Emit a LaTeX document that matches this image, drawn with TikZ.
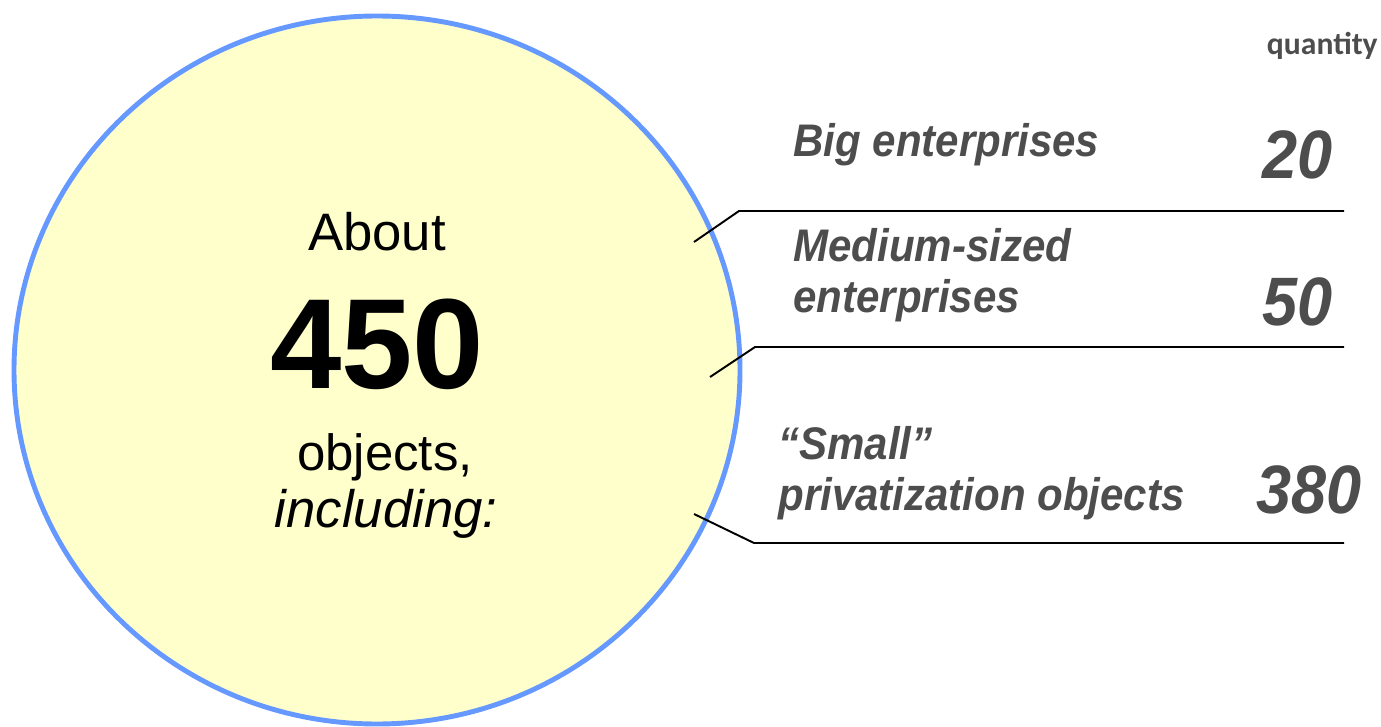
\documentclass[tikz,border=0pt]{standalone}
\usepackage{fontspec}
\setmainfont{Liberation Sans}
\newfontfamily\qtyfont{Carlito}
\newfontfamily\narrowfont[FakeStretch=0.92, Ligatures=TeX]{Liberation Sans}
\usetikzlibrary{positioning}

\definecolor{poolfill}{HTML}{FFFFCC}
\definecolor{poolline}{HTML}{6699FF}
\definecolor{txtgray}{HTML}{4D4D4D}

\begin{document}
\begin{tikzpicture}[x=0.02cm, y=-0.02cm,
            pool/.style={draw=poolline, line width=2.8pt, fill=poolfill},
            inside/.style={inner sep=0pt, anchor=base, font=\fontsize{30}{34}\selectfont},
            lbl/.style={inner sep=0pt, anchor=base west, text=txtgray, align=left,
                    font=\narrowfont\fontsize{26}{28.5}\selectfont\bfseries\itshape},
            num/.style={inner sep=0pt, anchor=base east, text=txtgray,
                    font=\narrowfont\fontsize{39}{44}\selectfont\bfseries\itshape},
            lead/.style={line width=1.1pt}
        ]
        \useasboundingbox (0,0) rectangle (1381,726);

        % The big pool of objects
        \draw[pool] (377,370) ellipse [x radius=363, y radius=354];

        % Text inside the pool
        \node[inside] (about) at (377,250) {About};
        \node[inside, font=\fontsize{73}{80}\selectfont\bfseries] (total) at (377,388) {450};
        \node[inside, font=\fontsize{29}{34}\selectfont] (objs) at (385,470) {objects,};
        \node[inside, font=\fontsize{30}{34}\selectfont\itshape] (incl) at (386,527) {including:};

        % Column head
        \node[inner sep=0pt, anchor=base east, text=txtgray, font=\qtyfont\fontsize{18}{20}\selectfont\bfseries] (qty) at (1378,55) {quantity};

        % Groups and their quantities
        \node[lbl] (big) at (793,157) {Big enterprises};
        \node[num] (n1) at (1333,178) {20};
        \node[lbl] (mid) at (793,312) {Medium-sized\\enterprises};
        \node[num] (n2) at (1333,325) {50};
        \node[lbl] (small) at (778,510) {“Small”\\privatization objects};
        \node[num] (n3) at (1362,513) {380};

        % Leader lines from the pool to the rows
        \foreach \sx/\sy/\cx/\cy [count=\n from 1] in {694/242/739/211, 710/377/755/347, 694/514/754/543} {
                \coordinate (s\n) at (\sx,\sy);
                \coordinate (c\n) at (\cx,\cy);
                \coordinate (e\n) at (1344,\cy);
                \draw[lead] (s\n) -- (c\n) -- (e\n);
            }
    \end{tikzpicture}
\end{document}
